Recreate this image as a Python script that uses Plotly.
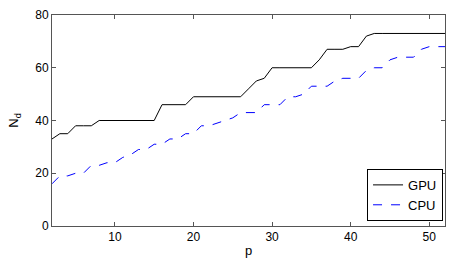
import plotly.graph_objects as go

p = list(range(2, 53))
gpu = [33, 35, 35, 38, 38, 38, 40, 40, 40, 40, 40, 40, 40, 40, 46, 46, 46, 46, 49, 49,
       49, 49, 49, 49, 49, 52, 55, 56, 60, 60, 60, 60, 60, 60, 63, 67, 67, 67, 68, 68,
       72, 73, 73, 73, 73, 73, 73, 73, 73, 73, 73]
cpu = [16, 19, 19, 20, 20, 23, 23, 24, 24, 26, 27, 29, 29, 31, 31, 33, 33, 35, 35, 38,
       38, 39, 40, 41, 43, 43, 43, 46, 46, 46, 49, 49, 50, 53, 53, 53, 55, 56, 56, 56,
       59, 60, 60, 63, 64, 64, 64, 67, 68, 68, 68]

fig = go.Figure()
fig.add_trace(go.Scatter(x=p, y=gpu, mode="lines", name="GPU",
                         line=dict(color="black", width=1)))
fig.add_trace(go.Scatter(x=p, y=cpu, mode="lines", name="CPU",
                         line=dict(color="#0000FF", width=1, dash="dash")))

axis_common = dict(showgrid=False, zeroline=False, showline=True, linecolor="#555555",
                   linewidth=1, mirror="ticks", ticks="inside", ticklen=4,
                   tickcolor="#555555", tickfont=dict(size=12, color="black"),
                   automargin=False)
fig.update_xaxes(range=[2, 52], tickvals=[10, 20, 30, 40, 50],
                 title=dict(text="p", font=dict(size=13, color="black"), standoff=2),
                 **axis_common)
fig.update_yaxes(range=[0, 80], tickvals=[0, 20, 40, 60, 80],
                 title=dict(text="N<sub>d</sub>", font=dict(size=13, color="black"), standoff=13),
                 **axis_common)

fig.update_layout(
    width=454, height=263,
    margin=dict(l=52, r=9, t=15, b=37, autoexpand=False),
    paper_bgcolor="white", plot_bgcolor="white",
    font=dict(family="Liberation Sans, Arial, sans-serif", size=12, color="black"),
    legend=dict(x=0.995, y=0.024, xanchor="right", yanchor="bottom",
                bordercolor="black", borderwidth=1, bgcolor="white",
                font=dict(size=13), tracegroupgap=0,
                itemwidth=30),
    showlegend=True,
)

fig.write_html("out.html", config={"displayModeBar": False},
               post_script="document.body.style.margin='0';document.body.style.padding='0';")
